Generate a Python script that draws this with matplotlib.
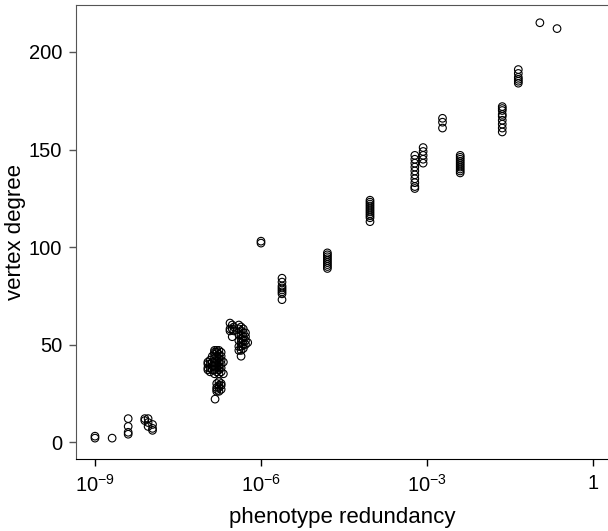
import numpy as np
import matplotlib
matplotlib.use("Agg")
import matplotlib.pyplot as plt

# log10(phenotype redundancy) of each column of points, and the degrees in it
col_logx = [
    -9.00, -8.69, -8.40,
    -8.10, -8.04, -7.96,
    -6.96, -6.92, -6.88, -6.84, -6.80, -6.76, -6.72, -6.68, -6.83,
    -6.56, -6.52, -6.49,
    -6.40, -6.36, -6.32, -6.28, -6.24,
    -6.00, -5.62, -4.80, -4.03,
    -3.22, -3.07, -2.72, -2.40, -1.64, -1.35, -0.96, -0.65,
]
col_degree = [
    [2, 3], [2], [12, 8, 5, 4],
    [12, 11], [12, 10, 8], [9, 7, 6],
    [41, 40, 38, 37],
    [42, 40, 38, 36],
    [44, 41, 39, 37],
    [47, 46, 45, 43, 41, 39, 37, 35],
    [47, 46, 44, 42, 40, 38, 36, 30, 28, 27, 26],
    [47, 45, 43, 41, 39, 37, 35, 31, 29, 28, 26],
    [46, 44, 42, 40, 38, 36, 30, 29, 27],
    [41, 35],
    [22],
    [61, 58, 57],
    [60, 58, 54],
    [59, 57],
    [60, 58, 55, 52, 49, 47],
    [59, 57, 55, 53, 51, 49, 47, 44],
    [58, 56, 54, 52, 50, 48],
    [56, 54, 52, 50],
    [51],
    [102, 103],
    [84, 82, 80, 79, 78, 77, 76, 73],
    [97, 96, 95, 94, 93, 92, 91, 90, 89],
    [124, 123, 122, 121, 120, 119, 118, 117, 116, 115, 113],
    [147, 145, 143, 141, 139, 137, 135, 133, 131, 130],
    [151, 149, 147, 145, 143],
    [166, 164, 161],
    [147, 146, 145, 144, 143, 142, 141, 140, 139, 138],
    [172, 171, 170, 168, 167, 165, 163, 161, 159],
    [191, 189, 187, 186, 185, 184],
    [215],
    [212],
]

x_ticks = [1e-9, 1e-6, 1e-3, 1]
x_tick_labels = [r"$10^{-9}$", r"$10^{-6}$", r"$10^{-3}$", "1"]
y_ticks = [0, 50, 100, 150, 200]

plt.rcParams["font.family"] = ["Liberation Sans", "DejaVu Sans"]
plt.rcParams["mathtext.fontset"] = "custom"
plt.rcParams["mathtext.rm"] = "Liberation Sans"
plt.rcParams["mathtext.it"] = "Liberation Sans:italic"

xs = []
ys = []
for lx, degs in zip(col_logx, col_degree):
    for d in degs:
        xs.append(10 ** lx)
        ys.append(d)

fig = plt.figure(figsize=(6.08, 5.31), dpi=100)
ax = fig.add_axes([76 / 608, 1 - 459 / 531, 1 - 76 / 608, (459 - 5) / 531])

ax.scatter(xs, ys, s=30, facecolors="none", edgecolors="black", linewidths=0.8)

ax.set_xscale("log")
ax.set_xlim(10 ** -9.343, 10 ** 0.271)
ax.set_ylim(-8.7, 224.1)
ax.set_xticks(x_ticks)
ax.set_xticklabels(x_tick_labels, fontsize=15.5)
ax.minorticks_off()
ax.set_yticks(y_ticks)

ax.spines["right"].set_visible(False)
ax.spines["left"].set_color("#555555")
ax.spines["top"].set_color("#555555")
ax.tick_params(axis="both", direction="out", length=5, width=1, labelsize=14.5)
ax.tick_params(axis="x", pad=6)
ax.tick_params(axis="y", color="#555555", pad=5)

ax.set_xlabel("phenotype redundancy", fontsize=16, labelpad=8)
ax.set_ylabel("vertex degree", fontsize=16, va="center")
ax.yaxis.set_label_coords(-0.114, 0.5)

fig.savefig("out.png", dpi=100)
